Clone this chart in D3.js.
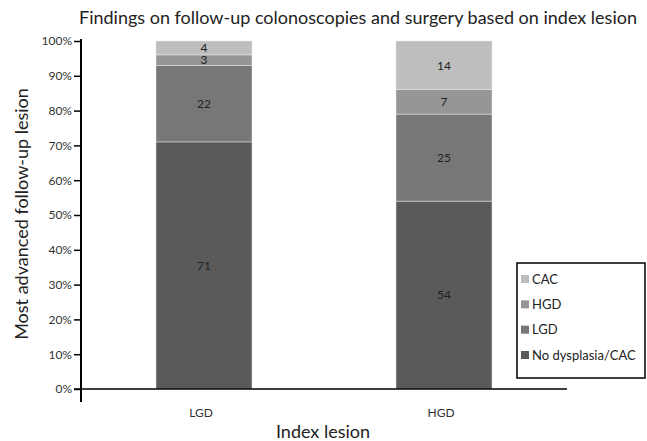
<!DOCTYPE html>
<html>
<head>
<meta charset="utf-8">
<script src="https://cdn.jsdelivr.net/npm/d3@7"></script>
<style>
  body { margin: 0; background: #fff; }
  svg { font-family: Lato, "Open Sans", sans-serif; }
</style>
</head>
<body>
<svg></svg>
<script>
const categories = ['LGD', 'HGD'];
const seriesNames = ['No dysplasia/CAC', 'LGD', 'HGD', 'CAC'];
const noDysplasia = [71, 54];
const lgd = [22, 25];
const hgd = [3, 7];
const cac = [4, 14];
const yTicks = [0, 10, 20, 30, 40, 50, 60, 70, 80, 90, 100];

const colors = ['#5a5a5a', '#777777', '#969696', '#bebebe'];

const svgWidth = 647;
const svgHeight = 441;

const svg = d3.select('svg')
    .attr('width', svgWidth)
    .attr('height', svgHeight);

const rows = categories.map((c, i) => ({
    cat: c,
    'No dysplasia/CAC': noDysplasia[i],
    'LGD': lgd[i],
    'HGD': hgd[i],
    'CAC': cac[i]
}));

const stacked = d3.stack().keys(seriesNames)(rows);

const xScale = d3.scaleBand()
    .domain(categories)
    .range([81, 567])
    .paddingInner(0.6)
    .paddingOuter(0.3125);

const yScale = d3.scaleLinear()
    .domain([0, 100])
    .range([389, 41]);

// bars
const layers = svg.selectAll('.layer')
    .data(stacked)
    .enter().append('g')
    .attr('class', 'layer')
    .attr('fill', (d, i) => colors[i]);

layers.selectAll('rect')
    .data(d => d)
    .enter().append('rect')
    .attr('x', d => xScale(d.data.cat))
    .attr('y', d => yScale(d[1]))
    .attr('width', xScale.bandwidth())
    .attr('height', d => yScale(d[0]) - yScale(d[1]))
    .attr('stroke', '#e8e8e8')
    .attr('stroke-width', 0.5);

layers.selectAll('text')
    .data(d => d)
    .enter().append('text')
    .attr('x', d => xScale(d.data.cat) + xScale.bandwidth() / 2)
    .attr('y', d => yScale((d[0] + d[1]) / 2))
    .attr('dy', '0.36em')
    .attr('text-anchor', 'middle')
    .attr('fill', '#222')
    .attr('font-size', '12px')
    .text(d => d[1] - d[0]);

// y axis
const yAxis = svg.append('g')
    .attr('transform', 'translate(81,0)')
    .call(d3.axisLeft(yScale).tickValues(yTicks).tickSize(7).tickFormat(d => d + '%'));
yAxis.select('.domain').remove();
yAxis.selectAll('line').attr('stroke', '#000').attr('stroke-width', 1.5);
yAxis.selectAll('text')
    .attr('x', -9)
    .attr('fill', '#333')
    .attr('font-size', '12px')
    .attr('font-family', 'Lato, sans-serif');

svg.append('line')
    .attr('x1', 81).attr('x2', 81)
    .attr('y1', 39).attr('y2', 402)
    .attr('stroke', '#000').attr('stroke-width', 2);

// x axis
svg.append('line')
    .attr('x1', 74).attr('x2', 567)
    .attr('y1', yScale(0)).attr('y2', yScale(0))
    .attr('stroke', '#000').attr('stroke-width', 1.5);

svg.selectAll('.xlabel')
    .data(categories)
    .enter().append('text')
    .attr('class', 'xlabel')
    .attr('x', d => xScale(d) + xScale.bandwidth() / 2 - 3)
    .attr('y', 417)
    .attr('text-anchor', 'middle')
    .attr('fill', '#333')
    .attr('font-size', '12px')
    .text(d => d);

// titles
svg.append('text')
    .attr('x', 358)
    .attr('y', 24)
    .attr('text-anchor', 'middle')
    .attr('fill', '#222')
    .attr('font-size', '18px')
    .text('Findings on follow-up colonoscopies and surgery based on index lesion');

svg.append('text')
    .attr('transform', 'rotate(-90)')
    .attr('x', -214)
    .attr('y', 28)
    .attr('text-anchor', 'middle')
    .attr('fill', '#222')
    .attr('font-size', '18px')
    .text('Most advanced follow-up lesion');

svg.append('text')
    .attr('x', 323)
    .attr('y', 438)
    .attr('text-anchor', 'middle')
    .attr('fill', '#222')
    .attr('font-size', '18px')
    .text('Index lesion');

// legend
const legend = svg.append('g');
legend.append('rect')
    .attr('x', 517).attr('y', 263)
    .attr('width', 128).attr('height', 115)
    .attr('fill', '#fff')
    .attr('stroke', '#000')
    .attr('stroke-width', 1.5);

const legendItems = seriesNames.slice().reverse();
const legendY = d3.scalePoint()
    .domain(legendItems)
    .range([279, 355]);

legend.selectAll('.swatch')
    .data(legendItems)
    .enter().append('rect')
    .attr('class', 'swatch')
    .attr('x', 521)
    .attr('y', d => legendY(d) - 4)
    .attr('width', 8)
    .attr('height', 8)
    .attr('fill', d => colors[seriesNames.indexOf(d)]);

legend.selectAll('.ltext')
    .data(legendItems)
    .enter().append('text')
    .attr('class', 'ltext')
    .attr('x', 532)
    .attr('y', d => legendY(d))
    .attr('dy', '0.36em')
    .attr('fill', '#222')
    .attr('font-size', '13px')
    .text(d => d);
</script>
</body>
</html>
